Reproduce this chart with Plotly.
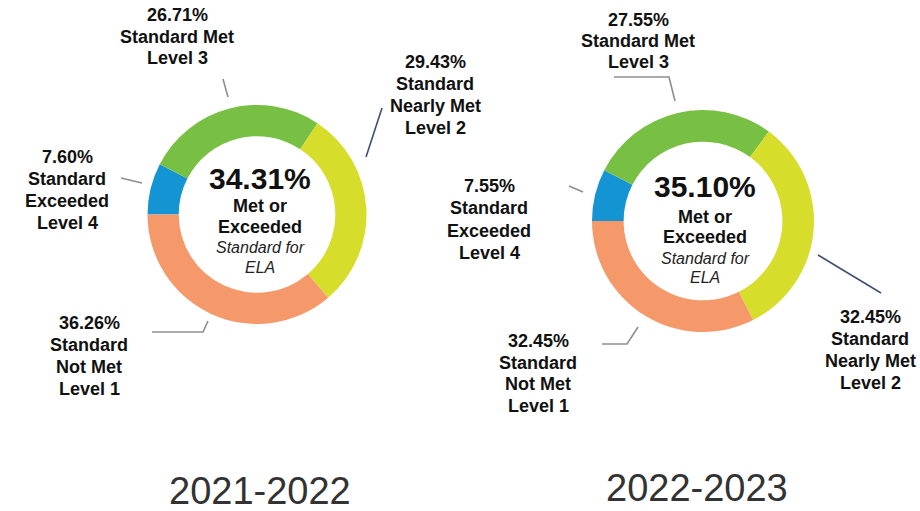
import plotly.graph_objects as go

# Smarter Balanced ELA results by achievement level
levels = ["Standard Not Met Level 1", "Standard Nearly Met Level 2",
          "Standard Met Level 3", "Standard Exceeded Level 4"]
level_lines = [["Standard", "Not Met", "Level 1"],
               ["Standard", "Nearly Met", "Level 2"],
               ["Standard Met", "Level 3"],
               ["Standard", "Exceeded", "Level 4"]]
years = ["2021-2022", "2022-2023"]
pct_2122 = [36.26, 29.43, 26.71, 7.60]
pct_2223 = [32.45, 32.45, 27.55, 7.55]
colors = ["#f5996a", "#d6de2b", "#78c043", "#1594d3"]

W, H = 920, 511
FONT = "Liberation Sans, Arial, sans-serif"


def px(x):
    return x / W


def py(y):
    return 1 - y / H


fig = go.Figure()

# donut geometry in pixels: centre x, centre y, outer radius
# slices run clockwise from 9 o'clock: Level 4, Level 3, Level 2, Level 1
rings = [(257, 214.5, 109.5), (703, 221, 111)]
for (cx, cy, r), vals, yr in zip(rings, [pct_2122, pct_2223], years):
    fig.add_trace(go.Pie(
        labels=levels[::-1], values=vals[::-1], hole=0.715, sort=False,
        direction="clockwise", rotation=270,
        marker=dict(colors=colors[::-1], line=dict(width=0)),
        textinfo="none", hoverinfo="label+value", name=yr,
        domain=dict(x=[px(cx - r), px(cx + r)], y=[py(cy + r), py(cy - r)]),
        showlegend=False,
    ))

annotations = []


def text_block(x, ys, lines, size, bold=True, italic=False, color="#111111"):
    for y, t in zip(ys, lines):
        if bold:
            t = "<b>" + t + "</b>"
        if italic:
            t = "<i>" + t + "</i>"
        annotations.append(dict(
            x=px(x), y=py(y), xref="paper", yref="paper", text=t,
            showarrow=False, xanchor="center", yanchor="middle",
            borderpad=0,
            font=dict(family=FONT, size=size, color=color)))


def level_label(i, vals, x, y0, step=22):
    lines = [f"{vals[i]:.2f}%"] + level_lines[i]
    text_block(x, [y0 + k * step for k in range(len(lines))], lines, 18)


# 2021-2022 labels
level_label(2, pct_2122, 177, 15, 21.7)
level_label(1, pct_2122, 435, 62)
level_label(3, pct_2122, 67, 157)
level_label(0, pct_2122, 89, 323)
# 2022-2023 labels
level_label(2, pct_2223, 638, 20, 21)
level_label(3, pct_2223, 489, 186, 22.3)
level_label(1, pct_2223, 870, 317, 22)
level_label(0, pct_2223, 538, 341, 21.7)

# centre text: share meeting or exceeding the standard
for vals, cx, ys in [(pct_2122, 260, [178, 206, 227, 247, 267]),
                     (pct_2223, 705, [186, 217, 237, 258, 277])]:
    met = vals[2] + vals[3]
    text_block(cx, ys[:1], [f"{met:.2f}%"], 30)
    text_block(cx, ys[1:3], ["Met or", "Exceeded"], 18)
    text_block(cx, ys[3:], ["Standard for", "ELA"], 16, bold=False, italic=True,
               color="#222222")

# year captions
text_block(260, [491], [years[0]], 38, bold=False, color="#333333")
text_block(697, [488], [years[1]], 38, bold=False, color="#333333")

# leader lines
GRAY = "#8e8e8e"
DARK = "#3f5070"
leaders = [
    ([(223, 79), (228, 97)], GRAY),
    ([(382, 108), (366, 157)], DARK),
    ([(121, 178), (142, 183)], GRAY),
    ([(152, 332), (203, 332), (208, 321)], GRAY),
    ([(614, 77), (669, 77), (675, 101)], GRAY),
    ([(569, 186), (583, 192)], GRAY),
    ([(818, 255), (881, 293)], DARK),
    ([(602, 344), (627, 344), (638, 327)], GRAY),
]
shapes = []
for pts, col in leaders:
    path = "M " + " L ".join(f"{px(x):.5f},{py(y):.5f}" for x, y in pts)
    shapes.append(dict(type="path", path=path, xref="paper", yref="paper",
                       line=dict(color=col, width=1.6)))

fig.update_layout(
    width=W, height=H, margin=dict(l=0, r=0, t=0, b=0),
    paper_bgcolor="white", plot_bgcolor="white",
    annotations=annotations, shapes=shapes,
)

fig.write_html("out.html")
